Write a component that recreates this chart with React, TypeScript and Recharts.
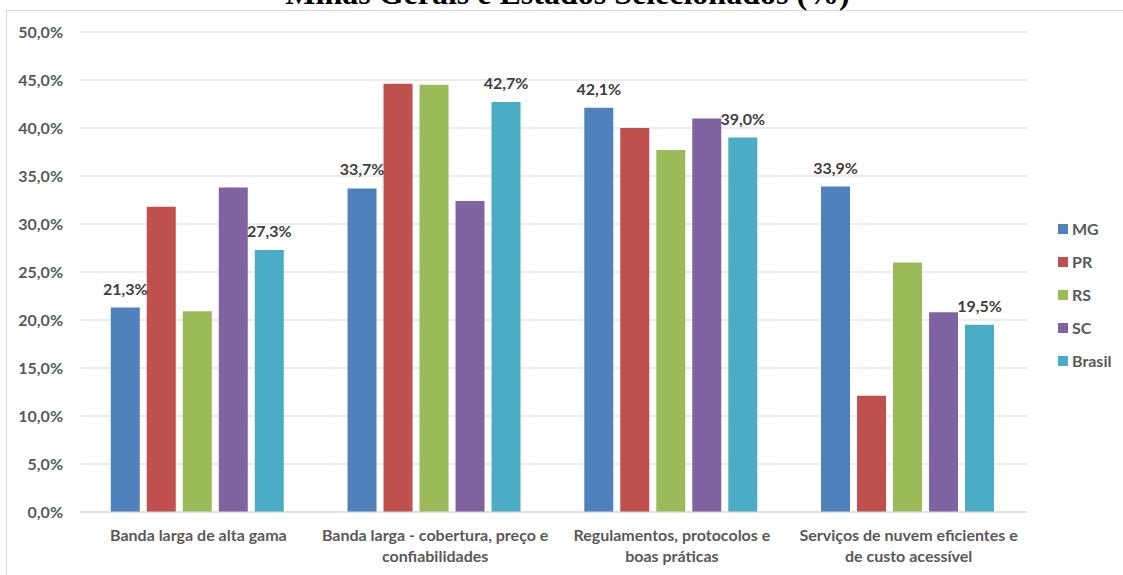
import { Bar, BarChart, CartesianGrid, LabelList, XAxis, YAxis } from "recharts";

const categories = [
  "Banda larga de alta gama",
  "Banda larga - cobertura, preço e\nconfiabilidades",
  "Regulamentos, protocolos e\nboas práticas",
  "Serviços de nuvem eficientes e\nde custo acessível",
];

const mg = [21.3, 33.7, 42.1, 33.9];
const pr = [31.8, 44.6, 40.0, 12.1];
const rs = [20.9, 44.5, 37.7, 26.0];
const sc = [33.8, 32.4, 41.0, 20.8];
const brasil = [27.3, 42.7, 39.0, 19.5];

const yTicks = [0, 5, 10, 15, 20, 25, 30, 35, 40, 45, 50];

const series = [
  { key: "MG", color: "#4F81BD", label: true },
  { key: "PR", color: "#C0504D", label: false },
  { key: "RS", color: "#9BBB59", label: false },
  { key: "SC", color: "#8064A2", label: false },
  { key: "Brasil", color: "#4BACC6", label: true },
];

const data = categories.map((name, i) => ({
  name,
  MG: mg[i],
  PR: pr[i],
  RS: rs[i],
  SC: sc[i],
  Brasil: brasil[i],
}));

const FONT = "Lato, 'Open Sans', sans-serif";
const pct = (v: number) => v.toFixed(1).replace(".", ",") + "%";

function CategoryTick({ x, y, payload }: any) {
  const lines = String(payload.value).split("\n");
  return (
    <text
      x={x}
      y={y}
      textAnchor="middle"
      fill="#595959"
      fontFamily={FONT}
      fontWeight="bold"
      fontSize={16}
    >
      {lines.map((l, i) => (
        <tspan key={i} x={x} dy={i === 0 ? 21 : 21}>
          {l}
        </tspan>
      ))}
    </text>
  );
}

function LegendBox() {
  return (
    <div
      style={{
        position: "absolute",
        top: 212,
        left: 1058,
        fontFamily: FONT,
      }}
    >
      {series.map((s) => (
        <div
          key={s.key}
          style={{ display: "flex", alignItems: "center", height: 33 }}
        >
          <span
            style={{
              width: 10,
              height: 10,
              background: s.color,
              marginRight: 4,
            }}
          />
          <span style={{ fontSize: 16, fontWeight: "bold", color: "#595959" }}>
            {s.key}
          </span>
        </div>
      ))}
    </div>
  );
}

export default function App() {
  return (
    <div
      style={{
        position: "absolute",
        top: 0,
        left: 0,
        width: 1123,
        height: 575,
        overflow: "hidden",
        background: "#fff",
      }}
    >
      <div
        style={{
          position: "absolute",
          top: 10,
          left: 6,
          width: 1140,
          height: 600,
          border: "1px solid #d9d9d9",
        }}
      />
      <div
        style={{
          position: "absolute",
          top: -23,
          left: 6,
          width: 1123,
          textAlign: "center",
          fontFamily: "'Liberation Serif', serif",
          fontWeight: "bold",
          fontSize: 32,
          lineHeight: "32px",
          color: "#000",
          whiteSpace: "nowrap",
        }}
      >
        Minas Gerais e Estados Selecionados (%)
      </div>
      <div style={{ position: "absolute", top: 0, left: 0 }}>
        <BarChart
          width={1123}
          height={575}
          data={data}
          margin={{ top: 32, right: 96, bottom: 0, left: 0 }}
          barCategoryGap="13%"
          barGap={7}
        >
          <CartesianGrid vertical={false} stroke="#d9d9d9" />
          <XAxis
            dataKey="name"
            tickLine={false}
            axisLine={{ stroke: "#d9d9d9" }}
            tick={<CategoryTick />}
            interval={0}
            height={63}
          />
          <YAxis
            width={80}
            domain={[0, 50]}
            ticks={yTicks}
            tickLine={false}
            axisLine={false}
            tickSize={0}
            tickMargin={17}
            tickFormatter={pct}
            tick={{
              fill: "#595959",
              fontSize: 16,
              fontWeight: "bold",
              fontFamily: FONT,
            }}
          />
          {series.map((s) => (
            <Bar
              key={s.key}
              dataKey={s.key}
              fill={s.color}
              isAnimationActive={false}
            >
              {s.label && (
                <LabelList
                  dataKey={s.key}
                  position="top"
                  offset={13}
                  formatter={(v: any) => pct(Number(v))}
                  fill="#404040"
                  fontFamily={FONT}
                  fontWeight="bold"
                  fontSize={16}
                />
              )}
            </Bar>
          ))}
        </BarChart>
      </div>
      <LegendBox />
    </div>
  );
}
